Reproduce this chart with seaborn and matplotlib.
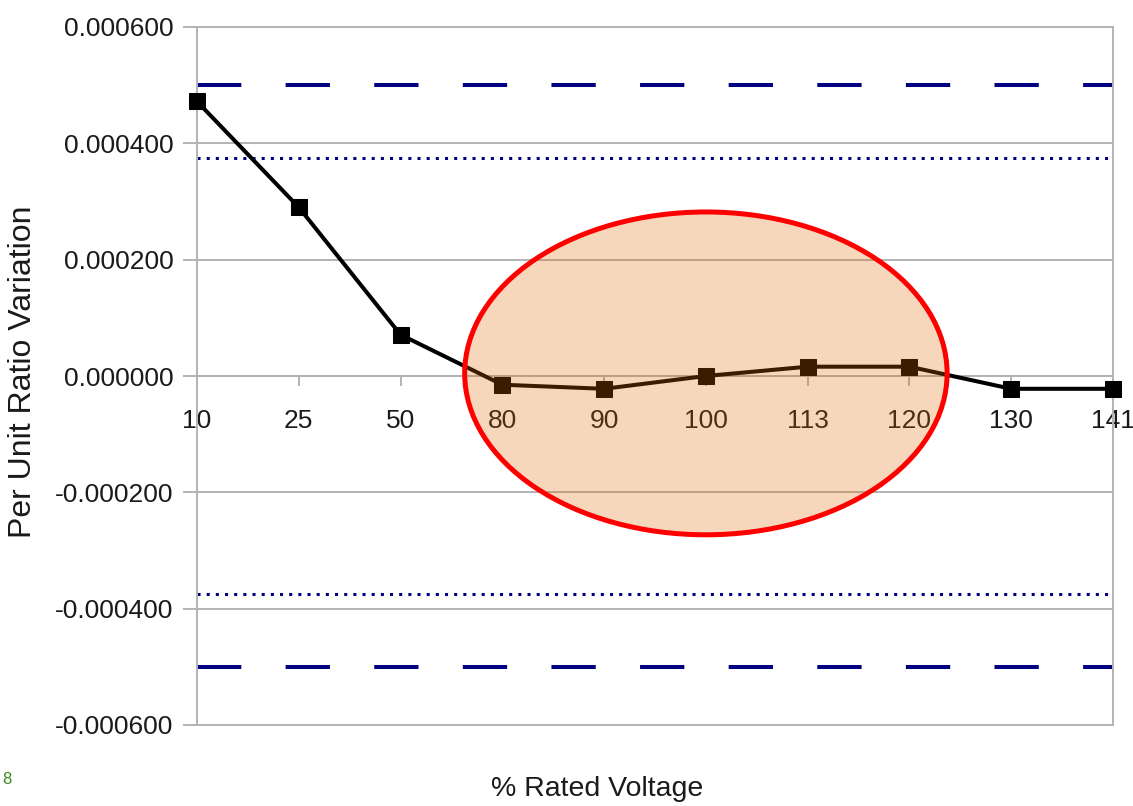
"""
Per unit ratio variation against % rated voltage, with limit bands
"""

import matplotlib
matplotlib.use("Agg")
import matplotlib.pyplot as plt
import matplotlib.ticker as mticker
from matplotlib.patches import Ellipse
import pandas as pd
import seaborn as sns

voltage_labels = ["10", "25", "50", "80", "90", "100", "113", "120", "130", "141"]
ratio_variation = [0.000472, 0.000290, 0.000071, -0.000015, -0.000022,
                   0.000000, 0.000016, 0.000016, -0.000022, -0.000022]
limit = 0.0005
tolerance = 0.000375
y_ticks = [-0.0006, -0.0004, -0.0002, 0.0, 0.0002, 0.0004, 0.0006]

GRID = "#b3b3b3"
NAVY = "#000080"
FONT = ["Liberation Sans", "DejaVu Sans"]

df = pd.DataFrame({"Voltage": voltage_labels, "Variation": ratio_variation})

sns.set_style("whitegrid")
plt.rcParams["font.family"] = FONT
plt.rcParams["axes.unicode_minus"] = False

fig = plt.figure(figsize=(11.33, 8.06), dpi=100)
ax = fig.add_axes([197 / 1133, 1 - 725 / 806, 916 / 1133, 698 / 806])

# limit and tolerance bands
for sign in (1, -1):
    ax.axhline(sign * limit, color=NAVY, lw=2.9, linestyle=(0, (11, 11)),
               dash_capstyle="butt", zorder=2)
    ax.axhline(sign * tolerance, color=NAVY, lw=2.2, linestyle=(0, (1, 2)),
               zorder=2)

sns.lineplot(data=df, x="Voltage", y="Variation", ax=ax, color="black",
             lw=2.9, marker="s", markersize=11.5, markeredgecolor="black",
             sort=False, zorder=3, clip_on=False)

# highlighted region
ax.add_patch(Ellipse((5, 0.0000045), 4.74, 0.000555,
                     facecolor=(226 / 255, 106 / 255, 0, 0.265),
                     edgecolor="#ff0000", lw=3.6, zorder=4))

ax.set_xlim(0, len(voltage_labels) - 1)
ax.set_ylim(-0.0006, 0.0006)
ax.set_yticks(y_ticks)
ax.yaxis.set_major_formatter(mticker.StrMethodFormatter("{x:.6f}"))

ax.grid(axis="y", color=GRID, lw=1.4)
ax.grid(axis="x", visible=False)
for side in ("left", "right", "top", "bottom"):
    ax.spines[side].set_color(GRID)
    ax.spines[side].set_linewidth(1.4)
ax.spines["bottom"].set_position(("data", 0))
ax.axhline(-0.0006, color=GRID, lw=1.4, clip_on=False, zorder=0.6)

ax.tick_params(axis="y", left=True, length=10, width=1.4, color=GRID,
               pad=7, labelsize=19, labelcolor="#1a1a1a")
ax.tick_params(axis="x", bottom=True, length=7, width=1.4, color=GRID,
               pad=17, labelsize=19, labelcolor="#1a1a1a")

ax.set_xlabel("")
ax.set_ylabel("")
fig.text(597 / 1133, 1 - 789 / 806, "% Rated Voltage", ha="center",
         va="center", fontsize=20.5, color="#1a1a1a")
fig.text(23 / 1133, 1 - 372 / 806, "Per Unit Ratio Variation", ha="center",
         va="center", rotation=90, fontsize=23, color="#1a1a1a")
fig.text(2 / 1133, 1 - 780 / 806, "8", ha="left", va="center", fontsize=12,
         color="#3a8a1a")

fig.savefig("out.png", dpi=100)
